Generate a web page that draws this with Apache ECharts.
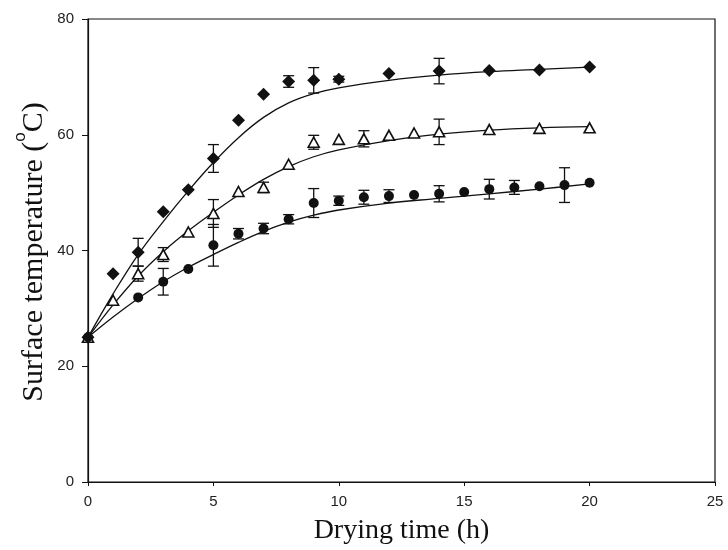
<!DOCTYPE html>
<html><head><meta charset="utf-8">
<script src="https://cdn.jsdelivr.net/npm/echarts@6/dist/echarts.min.js"></script>
<style>html,body{margin:0;padding:0;background:#fff}#c{width:728px;height:550px}</style>
</head><body><div id="c"></div>
<script>
// Axis ticks
const xTicks = [0, 5, 10, 15, 20, 25];
const yTicks = [0, 20, 40, 60, 80];

// Diamond series (filled)
const diamondX  = [0, 1, 2, 3, 4, 5, 6, 7, 8, 9, 10, 12, 14, 16, 18, 20];
const diamondY  = [25, 36.0, 39.7, 46.7, 50.5, 55.9, 62.5, 67.0, 69.2, 69.4, 69.6, 70.6, 71.0, 71.1, 71.2, 71.7];
const diamondSd = [0, 0, 2.4, 0, 0, 2.4, 0, 0, 1.0, 2.2, 0.5, 0, 2.2, 0, 0, 0];
// Triangle series (open)
const triangleX  = [0, 1, 2, 3, 4, 5, 6, 7, 8, 9, 10, 11, 12, 13, 14, 16, 18, 20];
const triangleY  = [25, 31.4, 36.0, 39.3, 43.2, 46.4, 50.2, 50.9, 54.9, 58.7, 59.2, 59.3, 59.9, 60.3, 60.5, 60.9, 61.1, 61.2];
const triangleSd = [0, 0, 1.3, 1.2, 0, 2.4, 0, 0.9, 0, 1.2, 0, 1.4, 0, 0, 2.2, 0, 0, 0];
// Circle series (filled)
const circleX  = [0, 2, 3, 4, 5, 6, 7, 8, 9, 10, 11, 12, 13, 14, 15, 16, 17, 18, 19, 20];
const circleY  = [25, 31.9, 34.6, 36.8, 40.9, 42.9, 43.8, 45.4, 48.2, 48.6, 49.2, 49.4, 49.6, 49.8, 50.1, 50.6, 50.9, 51.1, 51.3, 51.7];
const circleSd = [0, 0, 2.3, 0, 3.6, 0.9, 0.9, 0.8, 2.5, 0.8, 1.2, 1.1, 0, 1.4, 0, 1.7, 1.2, 0, 3.0, 0];

// Fitted curves
const fitX         = [0, 1, 2, 3, 4, 5, 6, 7, 8, 9, 10, 12, 14, 16, 18, 20];
const diamondFit   = [25, 32.5, 39.3, 45.0, 50.3, 55.2, 59.5, 63.0, 65.5, 67.1, 68.1, 69.4, 70.3, 70.9, 71.3, 71.7];
const triangleFit  = [25, 30.6, 35.6, 39.8, 43.4, 46.6, 49.6, 52.3, 54.5, 56.2, 57.4, 59.0, 60.1, 60.8, 61.2, 61.4];
const circleFit    = [25, 28.5, 31.7, 34.6, 37.1, 39.3, 41.4, 43.3, 44.9, 46.1, 47.0, 48.2, 49.0, 49.8, 50.6, 51.5];

const pairs = (xs, ys) => xs.map((x, i) => [x, ys[i]]);
const errs = (xs, ys, sd) => xs.map((x, i) => [x, ys[i] - sd[i], ys[i] + sd[i], sd[i]]).filter(d => d[3] > 0);
const allErr = errs(diamondX, diamondY, diamondSd)
  .concat(errs(triangleX, triangleY, triangleSd))
  .concat(errs(circleX, circleY, circleSd));

const chart = echarts.init(document.getElementById('c'), null, {renderer: 'canvas'});
const lineStyleFit = {color: '#111', width: 1.3};

chart.setOption({
  animation: false,
  backgroundColor: '#fff',
  grid: {left: 88, right: 13, top: 19, bottom: 65, show: true, borderColor: '#111', borderWidth: 1.2},
  xAxis: {
    type: 'value', min: xTicks[0], max: xTicks[xTicks.length - 1], interval: 5,
    splitLine: {show: false},
    axisLine: {lineStyle: {color: '#111', width: 1.2}},
    axisTick: {inside: false, length: 4, lineStyle: {color: '#111'}},
    axisLabel: {fontFamily: 'Liberation Sans', fontSize: 15, color: '#222', margin: 12},
    name: 'Drying time (h)', nameLocation: 'middle', nameGap: 35,
    nameTextStyle: {fontFamily: 'Liberation Serif', fontSize: 28, color: '#111'}
  },
  yAxis: {
    type: 'value', min: yTicks[0], max: yTicks[yTicks.length - 1], interval: 20,
    splitLine: {show: false},
    axisLine: {show: true, lineStyle: {color: '#111', width: 1.2}},
    axisTick: {show: true, inside: false, length: 6, lineStyle: {color: '#111'}},
    axisLabel: {fontFamily: 'Liberation Sans', fontSize: 15, color: '#222', margin: 14}
  },
  graphic: [{
    type: 'text', x: 34, y: 252, rotation: Math.PI / 2,
    style: {
      text: '{m|Surface temperature (}{s|o}{m|C)}',
      align: 'center', verticalAlign: 'middle',
      rich: {
        m: {fontFamily: 'Liberation Serif', fontSize: 30, lineHeight: 44, fill: '#111'},
        s: {fontFamily: 'Liberation Sans', fontSize: 17, lineHeight: 17, verticalAlign: 'top', fill: '#111'}
      }
    }
  }],
  series: [
    {type: 'line', data: pairs(fitX, diamondFit), smooth: 0.4, showSymbol: false, lineStyle: lineStyleFit, z: 2},
    {type: 'line', data: pairs(fitX, triangleFit), smooth: 0.4, showSymbol: false, lineStyle: lineStyleFit, z: 2},
    {type: 'line', data: pairs(fitX, circleFit), smooth: 0.4, showSymbol: false, lineStyle: lineStyleFit, z: 2},
    {
      type: 'custom', data: allErr, z: 3,
      encode: {x: 0, y: [1, 2]},
      renderItem: function (params, api) {
        const x = api.value(0);
        const top = api.coord([x, api.value(2)]);
        const bot = api.coord([x, api.value(1)]);
        const w = 5.5;
        const st = {stroke: '#111', lineWidth: 1.3, fill: null};
        return {type: 'group', children: [
          {type: 'line', shape: {x1: top[0], y1: top[1], x2: bot[0], y2: bot[1]}, style: st},
          {type: 'line', shape: {x1: top[0] - w, y1: top[1], x2: top[0] + w, y2: top[1]}, style: st},
          {type: 'line', shape: {x1: bot[0] - w, y1: bot[1], x2: bot[0] + w, y2: bot[1]}, style: st}
        ]};
      }
    },
    {type: 'scatter', data: pairs(circleX, circleY), symbol: 'circle', symbolSize: 10,
      itemStyle: {color: '#111', opacity: 1}, z: 4},
    {type: 'scatter', data: pairs(triangleX, triangleY), symbol: 'triangle', symbolSize: [11, 10],
      itemStyle: {color: '#fff', borderColor: '#111', borderWidth: 1.6, opacity: 1}, z: 5},
    {type: 'scatter', data: pairs(diamondX, diamondY), symbol: 'diamond', symbolSize: [13, 13],
      itemStyle: {color: '#111', opacity: 1}, z: 6}
  ]
});
</script>
</body></html>
